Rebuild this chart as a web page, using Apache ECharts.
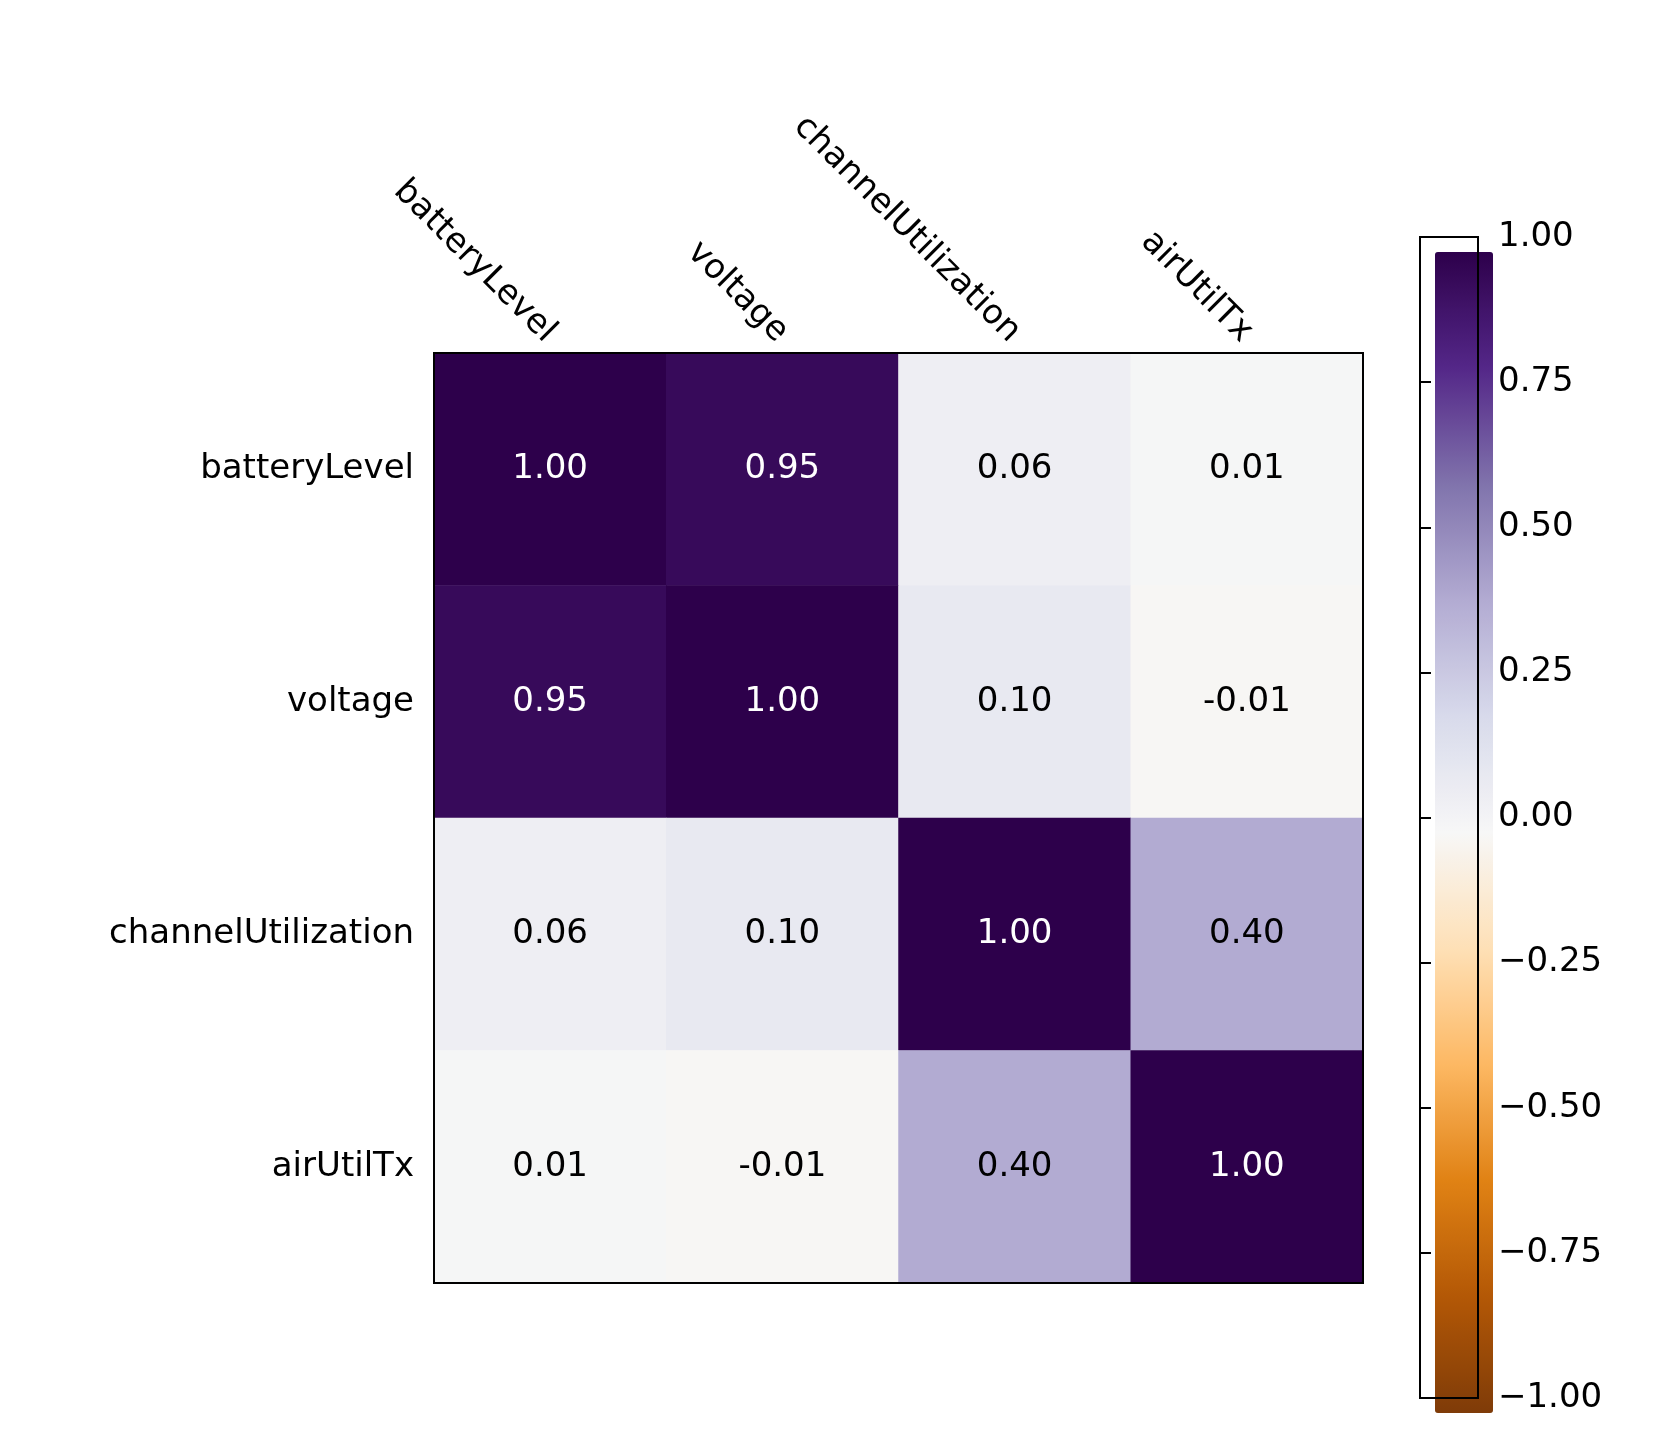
<!DOCTYPE html>
<html><head><meta charset="utf-8">
<script src="https://cdn.jsdelivr.net/npm/echarts@6/dist/echarts.min.js"></script>
<style>body{margin:0;background:#fff}#c{width:1665px;height:1454px}</style>
</head><body><div id="c"></div>
<script>
var labels = ['batteryLevel', 'voltage', 'channelUtilization', 'airUtilTx'];
var corr = [
	[1.00, 0.95, 0.06, 0.01],
	[0.95, 1.00, 0.10, -0.01],
	[0.06, 0.10, 1.00, 0.40],
	[0.01, -0.01, 0.40, 1.00]
];
var cbarTicks = [-1, -0.75, -0.5, -0.25, 0, 0.25, 0.5, 0.75, 1];
var puor = ['#7f3b08', '#b35806', '#e08214', '#fdb863', '#fee0b6', '#f7f7f7', '#d8daeb', '#b2abd2', '#8073ac', '#542788', '#2d004b'];

var cells = [];
for(var i = 0; i < labels.length; i++) {
	for(var j = 0; j < labels.length; j++) {
		cells.push([j, i, corr[i][j]]);
	}
}
var font = 'DejaVu Sans';
var chart = echarts.init(document.getElementById('c'));
chart.setOption({
	animation: false,
	textStyle: {fontFamily: font},
	grid: [
		{left: 434, top: 353, width: 929, height: 930, show: true, borderColor: '#000', borderWidth: 2, backgroundColor: 'transparent', z: 5},
		{left: 1420, top: 237, width: 58, height: 1161, show: true, borderColor: '#000', borderWidth: 2, backgroundColor: 'transparent', z: 5}
	],
	xAxis: [
		{type: 'category', data: labels, position: 'top', gridIndex: 0,
			axisLine: {show: false}, splitLine: {show: false},
			axisTick: {alignWithLabel: true, length: 11, lineStyle: {color: '#000', width: 2}},
			axisLabel: {rotate: 45, fontSize: 34, color: '#000', margin: 16, fontFamily: font}},
		{type: 'category', data: labels, position: 'bottom', gridIndex: 0,
			axisLine: {show: false}, splitLine: {show: false},
			axisTick: {alignWithLabel: true, length: 11, lineStyle: {color: '#000', width: 2}},
			axisLabel: {show: false}},
		{type: 'value', gridIndex: 1, show: false, min: 0, max: 1}
	],
	yAxis: [
		{type: 'category', data: labels, inverse: true, gridIndex: 0,
			axisLine: {show: false}, splitLine: {show: false},
			axisTick: {alignWithLabel: true, length: 11, lineStyle: {color: '#000', width: 2}},
			axisLabel: {fontSize: 34, color: '#000', margin: 20, fontFamily: font}},
		{type: 'value', gridIndex: 1, position: 'right', min: -1, max: 1, interval: 0.25,
			axisLine: {show: false}, splitLine: {show: false},
			axisTick: {show: true, length: 11, lineStyle: {color: '#000', width: 2}},
			axisLabel: {fontSize: 34, color: '#000', margin: 20, fontFamily: font,
				formatter: function(v) { return (v < 0 ? '\u2212' : '') + Math.abs(v).toFixed(2); }}}
	],
	visualMap: {
		type: 'continuous', min: -1, max: 1, seriesIndex: 0, dimension: 2,
		left: 1420, top: 237, itemWidth: 58, itemHeight: 1161,
		calculable: false, showLabel: false, text: null, hoverLink: false,
		inRange: {color: puor}
	},
	series: [{
		type: 'heatmap', xAxisIndex: 0, yAxisIndex: 0, data: cells,
		label: {show: true, fontSize: 34, fontFamily: font,
			formatter: function(p) { return p.value[2].toFixed(2); },
			color: '#000',
			rich: {}},
		itemStyle: {borderWidth: 0}
	}]
});
// white text on dark cells
chart.setOption({series: [{data: cells.map(function(c) {
	return {value: c, label: {color: Math.abs(c[2]) > 0.5 ? '#fff' : '#000'}};
})}]});
</script>
</body></html>
